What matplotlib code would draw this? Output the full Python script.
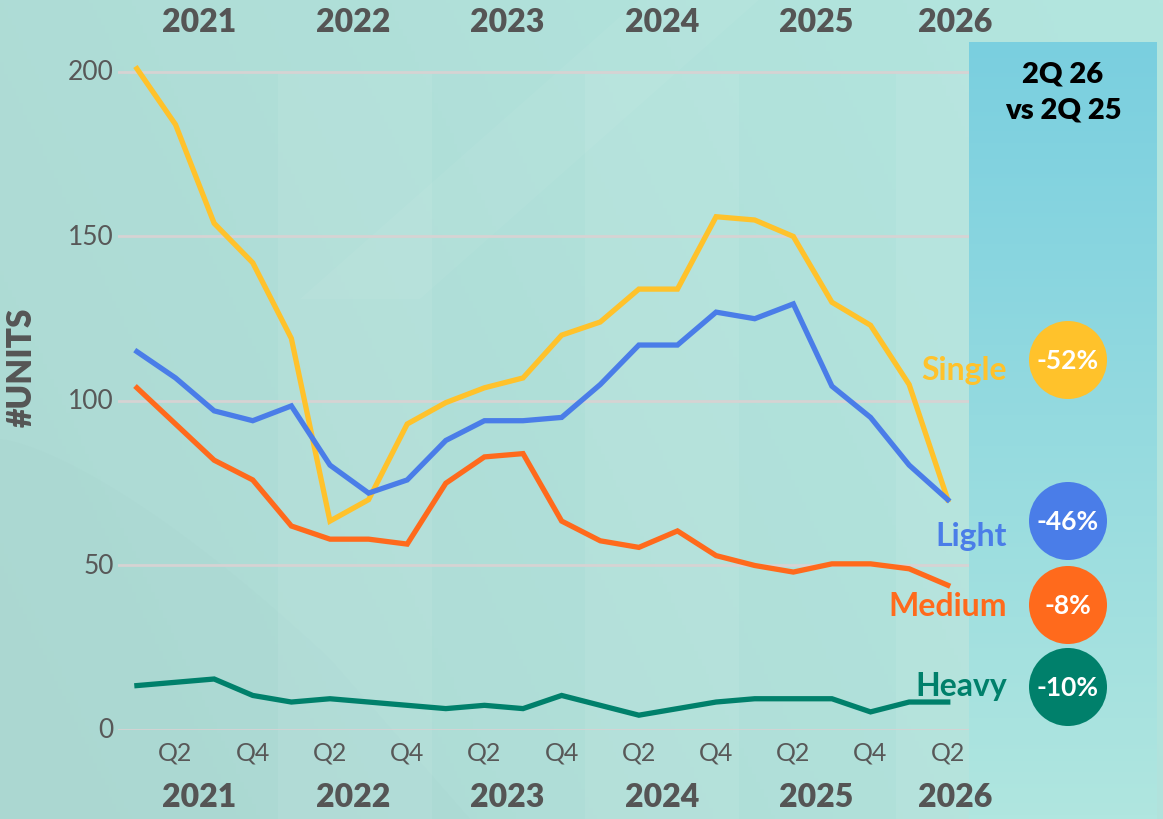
import numpy as np
import matplotlib
matplotlib.use("Agg")
import matplotlib.pyplot as plt
from matplotlib.colors import to_rgb
from matplotlib.patches import Circle, Polygon
from matplotlib.transforms import blended_transform_factory


#### Data (units per quarter, Q1 2021 .. Q2 2026)
quarters = ["Q1", "Q2", "Q3", "Q4"] * 5 + ["Q1", "Q2"]
years = ["2021", "2022", "2023", "2024", "2025", "2026"]
year_pos = [1.6, 5.6, 9.6, 13.6, 17.6, 21.2]

single = [201, 184, 154, 142, 119, 63.5, 70, 93, 99.5, 104, 107, 120,
          124, 134, 134, 156, 155, 150, 130, 123, 105, 70]
light = [115, 107, 97, 94, 98.5, 80.5, 72, 76, 88, 94, 94, 95,
         105, 117, 117, 127, 125, 129.5, 104.5, 95, 80.5, 70]
medium = [104, 93, 82, 76, 62, 58, 58, 56.5, 75, 83, 84, 63.5,
          57.5, 55.5, 60.5, 53, 50, 48, 50.5, 50.5, 49, 44]
heavy = [13.5, 14.5, 15.5, 10.5, 8.5, 9.5, 8.5, 7.5, 6.5, 7.5, 6.5, 10.5,
         7.5, 4.5, 6.5, 8.5, 9.5, 9.5, 9.5, 5.5, 8.5, 8.5]

series_names = ["Single", "Light", "Medium", "Heavy"]
series_vals = [single, light, medium, heavy]
series_cols = ["#FFC22B", "#4A7DE8", "#FF6A1C", "#00806B"]
changes = ["-52%", "-46%", "-8%", "-10%"]
yticks = [0, 50, 100, 150, 200]

W, H = 1163, 820
plt.rcParams["font.family"] = ["Lato", "DejaVu Sans"]
fig = plt.figure(figsize=(W / 100, H / 100), dpi=100)

### BACKGROUND (pixel coordinates)
bg = fig.add_axes([0, 0, 1, 1], zorder=0)
xx, yy = np.meshgrid(np.linspace(0, 1, 300), np.linspace(0, 1, 220))
c_tl = np.array(to_rgb("#add9d3"))
c_br = np.array(to_rgb("#b3e6df"))
t = np.clip(0.75 * xx + 0.25 * (1 - yy), 0, 1)[..., None]
img = c_tl * (1 - t) + c_br * t
bg.imshow(img, extent=[0, W, H, 0], aspect="auto", zorder=0)
# darker sweep in the lower left
curve_x = np.linspace(0, 330, 40)
curve_y = 440 + 220 * (curve_x / 330) ** 1.4
pts = [(0, H)] + list(zip(curve_x, curve_y)) + [(470, H)]
bg.add_patch(Polygon(pts, closed=True, facecolor="#9fc9c4", alpha=0.1,
                     edgecolor="none", zorder=1))
# light diagonal at the top
bg.add_patch(Polygon([(640, 0), (760, 0), (420, 300), (300, 300)], closed=True,
                     facecolor="white", alpha=0.04, edgecolor="none", zorder=1))

# comparison panel with vertical gradient
panel = np.linspace(0, 1, 200)[:, None, None]
ptop = np.array(to_rgb("#7acfdf"))
pbot = np.array(to_rgb("#b0e6e0"))
pimg = np.repeat(ptop * (1 - panel) + pbot * panel, 2, axis=1)
bg.imshow(pimg, extent=[969, 1157, H, 43], aspect="auto", zorder=2)
bg.set_xlim(0, W)
bg.set_ylim(H, 0)
bg.axis("off")

bg.text(1063, 75, "2Q 26", ha="center", va="center", fontsize=21,
        fontweight="heavy", color="black", zorder=5)
bg.text(1063, 110, "vs 2Q 25", ha="center", va="center", fontsize=21,
        fontweight="heavy", color="black", zorder=5)

# badges and series names
badge_y = [361, 522, 606, 688]
label_y = [371, 537, 607, 687]
for name, col, ch, by, ly in zip(series_names, series_cols, changes, badge_y, label_y):
    bg.add_patch(Circle((1068, by), 39, facecolor=col, edgecolor="none", zorder=5))
    bg.text(1068, by, ch, ha="center", va="center", fontsize=19,
            fontweight="bold", color="white", zorder=6)
    bg.text(1007, ly, name, ha="right", va="center", fontsize=23,
            fontweight="bold", color=col, zorder=6)

bg.text(22, 367, "#UNITS", rotation=90, ha="center", va="center",
        fontsize=24, fontweight="heavy", color="#555555")

### MAIN CHART
ax = fig.add_axes([118 / W, 89 / H, (969 - 118) / W, (731 - 43) / H], zorder=3)
ax.patch.set_alpha(0)
x = np.arange(len(quarters))
ax.set_xlim(-0.49, 21.55)
ax.set_ylim(0, 209.1)
for s in ax.spines.values():
    s.set_visible(False)
ax.set_xticks([])
ax.set_yticks([])

trans = blended_transform_factory(ax.transData, bg.transData)
# year bands (from the top gridline down to the bottom of the figure)
for start in [3.65, 11.6, 19.65]:
    end = min(start + 4, 21.55)
    bg.add_patch(Polygon([(start, 73), (end, 73), (end, H), (start, H)],
                         closed=True, transform=trans, facecolor="white",
                         alpha=0.07, edgecolor="none", zorder=1))

for v in yticks:
    ax.axhline(v, color="#d6d3d3", lw=2, zorder=1)
    ax.text(-0.6, v, str(v), ha="right", va="center", fontsize=19,
            color="#585858", clip_on=False)

for vals, col in zip(series_vals, series_cols):
    ax.plot(x, vals, color=col, lw=3.8, solid_joinstyle="miter", zorder=3,
            clip_on=False)

for i, q in enumerate(quarters):
    if q in ("Q2", "Q4"):
        ax.text(i, 753, q, transform=trans, ha="center", va="center",
                fontsize=18, color="#585858")
for yr, xp in zip(years, year_pos):
    ax.text(xp, 23, yr, transform=trans, ha="center", va="center",
            fontsize=23, fontweight="heavy", color="#555555")
    ax.text(xp, 798, yr, transform=trans, ha="center", va="center",
            fontsize=23, fontweight="heavy", color="#555555")

fig.savefig("out.png", dpi=100)
